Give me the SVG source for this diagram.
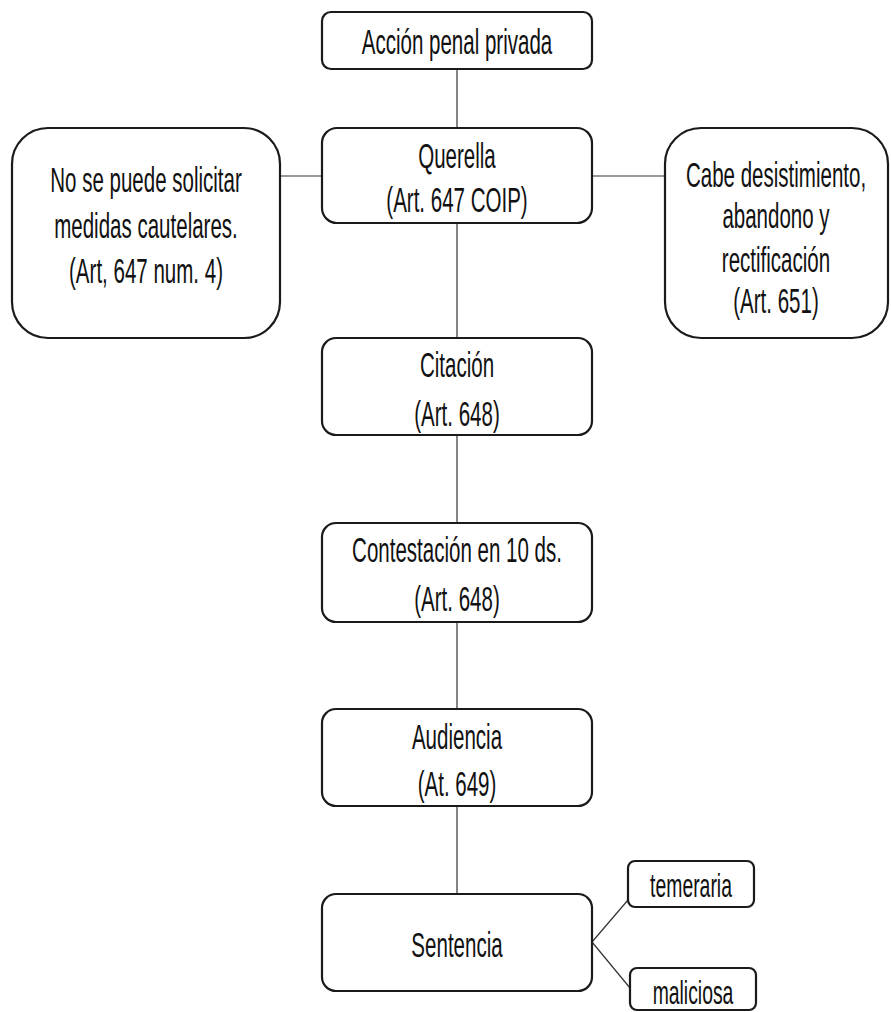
<svg xmlns="http://www.w3.org/2000/svg" width="891" height="1012" viewBox="0 0 891 1012">
  <style>
    .box { fill: #ffffff; stroke: #1a1a1a; stroke-width: 2.2; }
    .link { stroke: #333333; stroke-width: 1.2; fill: none; }
    .lbl { font-family: "Liberation Sans", Arial, sans-serif; font-size: 36px; fill: #111111; text-anchor: middle; }
    .sm { font-size: 34px; }
  </style>
  <rect width="891" height="1012" fill="#ffffff"/>

  <!-- connectors -->
  <g id="connectors">
    <line class="link" x1="457" y1="69" x2="457" y2="128"/>
    <line class="link" x1="457" y1="223" x2="457" y2="338"/>
    <line class="link" x1="280" y1="176" x2="322" y2="176"/>
    <line class="link" x1="592" y1="176" x2="665" y2="176"/>
    <line class="link" x1="457" y1="435" x2="457" y2="523"/>
    <line class="link" x1="457" y1="622" x2="457" y2="709"/>
    <line class="link" x1="457" y1="806" x2="457" y2="894"/>
    <line class="link" x1="592" y1="942" x2="628" y2="900"/>
    <line class="link" x1="592" y1="942" x2="630" y2="988"/>
  </g>

  <g id="accion">
    <rect class="box" x="322" y="12" width="270" height="57" rx="9"/>
    <g transform="translate(457,0) scale(0.57,1)">
      <text class="lbl" x="0" y="54">Acción penal privada</text>
    </g>
  </g>

  <g id="querella">
    <rect class="box" x="322" y="128" width="270" height="95" rx="15"/>
    <g transform="translate(457,0) scale(0.57,1)">
      <text class="lbl" x="0" y="168">Querella</text>
      <text class="lbl" x="0" y="212">(Art. 647 COIP)</text>
    </g>
  </g>

  <g id="medidas">
    <rect class="box" x="12" y="128" width="268" height="210" rx="36"/>
    <g transform="translate(146,0) scale(0.57,1)">
      <text class="lbl" x="0" y="192">No se puede solicitar</text>
      <text class="lbl" x="0" y="238">medidas cautelares.</text>
      <text class="lbl" x="0" y="283">(Art, 647 num. 4)</text>
    </g>
  </g>

  <g id="desistimiento">
    <rect class="box" x="665" y="128" width="223" height="210" rx="36"/>
    <g transform="translate(776,0) scale(0.57,1)">
      <text class="lbl" x="0" y="187">Cabe desistimiento,</text>
      <text class="lbl" x="0" y="228">abandono y</text>
      <text class="lbl" x="0" y="272">rectificación</text>
      <text class="lbl" x="0" y="313">(Art. 651)</text>
    </g>
  </g>

  <g id="citacion">
    <rect class="box" x="322" y="338" width="270" height="97" rx="14"/>
    <g transform="translate(457,0) scale(0.57,1)">
      <text class="lbl" x="0" y="377">Citación</text>
      <text class="lbl" x="0" y="426">(Art. 648)</text>
    </g>
  </g>

  <g id="contestacion">
    <rect class="box" x="322" y="523" width="270" height="99" rx="14"/>
    <g transform="translate(457,0) scale(0.57,1)">
      <text class="lbl" x="0" y="562">Contestación en 10 ds.</text>
      <text class="lbl" x="0" y="611">(Art. 648)</text>
    </g>
  </g>

  <g id="audiencia">
    <rect class="box" x="322" y="709" width="270" height="97" rx="14"/>
    <g transform="translate(457,0) scale(0.57,1)">
      <text class="lbl" x="0" y="749">Audiencia</text>
      <text class="lbl" x="0" y="796">(At. 649)</text>
    </g>
  </g>

  <g id="sentencia">
    <rect class="box" x="322" y="894" width="270" height="97" rx="14"/>
    <g transform="translate(457,0) scale(0.57,1)">
      <text class="lbl" x="0" y="957">Sentencia</text>
    </g>
  </g>

  <g id="temeraria">
    <rect class="box" x="628" y="861" width="126" height="46" rx="7"/>
    <g transform="translate(691,0) scale(0.57,1)">
      <text class="lbl sm" x="0" y="897">temeraria</text>
    </g>
  </g>

  <g id="maliciosa">
    <rect class="box" x="630" y="968" width="126" height="42" rx="7"/>
    <g transform="translate(693,0) scale(0.57,1)">
      <text class="lbl sm" x="0" y="1004">maliciosa</text>
    </g>
  </g>
</svg>
